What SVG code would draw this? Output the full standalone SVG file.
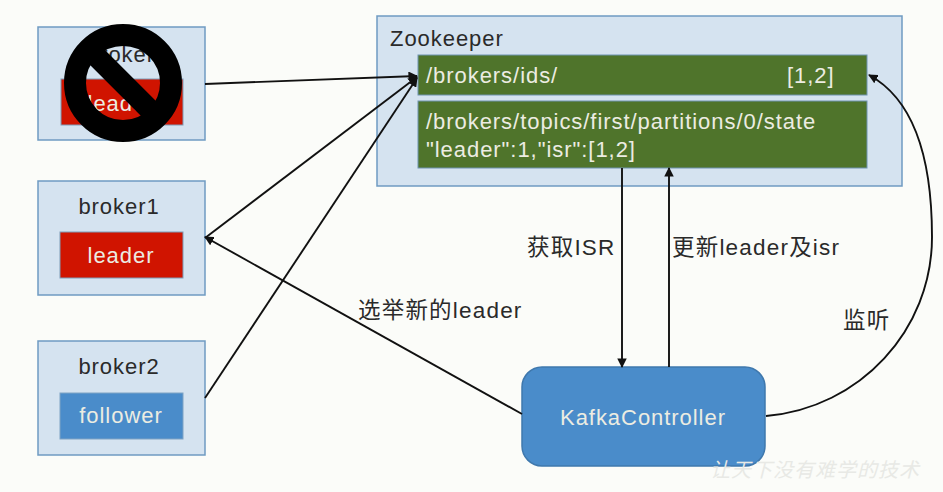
<svg xmlns="http://www.w3.org/2000/svg" width="943" height="492" viewBox="0 0 943 492">
<style>
text{font-family:"Liberation Sans","Noto Sans CJK SC",sans-serif;font-size:22px;letter-spacing:.95px}
.panel{fill:#d5e3f0;stroke:#6f9ac2;stroke-width:1.5}
.red{fill:#d01400;stroke:#7f9db8;stroke-width:1}
.blue{fill:#4a8cca;stroke:#7fa3c4;stroke-width:1}
.green{fill:#4f742b;stroke:#6f93b0;stroke-width:1}
.dark{fill:#2a2a2a}
.light{fill:#ecece2}
.c{text-anchor:middle}
.conn{fill:none;stroke:#111;stroke-width:1.9;marker-end:url(#arrow)}
#labels text{font-size:22.5px;letter-spacing:1.2px}
</style>
<defs>
<marker id="arrow" viewBox="0 0 10 10" refX="9" refY="5" markerWidth="5" markerHeight="5" orient="auto" markerUnits="strokeWidth">
<path d="M0 0L10 5L0 10Z" fill="#111"/>
</marker>
</defs>
<rect width="943" height="492" fill="#fbfcf9"/>
<g id="broker0">
<rect class="panel" x="38" y="27" width="167" height="113"/>
<text class="dark c" x="121" y="62">broker</text>
<rect class="red" x="61" y="79" width="122" height="46"/>
<text class="light c" x="121" y="111">leader</text>
</g>
<g id="forbidden">
<circle cx="123" cy="83" r="48" fill="none" stroke="#000" stroke-width="22"/>
<line x1="88" y1="48" x2="158" y2="118" stroke="#000" stroke-width="21"/>
</g>
<g id="broker1">
<rect class="panel" x="38" y="181" width="167" height="114"/>
<text class="dark c" x="119" y="214">broker1</text>
<rect class="red" x="60" y="232" width="123" height="46"/>
<text class="light c" x="121" y="263">leader</text>
</g>
<g id="broker2">
<rect class="panel" x="38" y="341" width="167" height="114"/>
<text class="dark c" x="119" y="374">broker2</text>
<rect class="blue" x="60" y="393" width="123" height="46"/>
<text class="light c" x="121" y="423">follower</text>
</g>
<g id="zookeeper">
<rect class="panel" x="377" y="16" width="525" height="170"/>
<text class="dark" x="390" y="46">Zookeeper</text>
</g>
<g id="ids">
<rect class="green" x="418" y="55" width="449" height="40"/>
<text class="light" x="426" y="83">/brokers/ids/</text>
<text class="light" x="787" y="83">[1,2]</text>
</g>
<g id="state">
<rect class="green" x="418" y="101" width="449" height="67"/>
<text class="light" x="426" y="129">/brokers/topics/first/partitions/0/state</text>
<text class="light" x="426" y="157">"leader":1,"isr":[1,2]</text>
</g>
<g id="controller">
<rect x="522" y="367" width="243" height="99" rx="20" fill="#4a8cca" stroke="#3f78ad" stroke-width="1.5"/>
<text class="light c" x="643" y="425">KafkaController</text>
</g>
<g id="connectors">
<path class="conn" d="M205 84L417 76"/>
<path class="conn" d="M205 238L417 77"/>
<path class="conn" d="M205 398L417 78"/>
<path class="conn" d="M522 414L205 237"/>
<path class="conn" d="M622 168V367"/>
<path class="conn" d="M669 367V168"/>
<path class="conn" d="M766 416C860 408 932 330 932 237C932 160 915 100 869 75"/>
</g>
<g id="labels">
<text class="dark" x="527" y="255">获取ISR</text>
<text class="dark" x="672" y="255">更新leader及isr</text>
<text class="dark" x="358" y="318">选举新的leader</text>
<text class="dark" x="843" y="328">监听</text>
</g>
<text x="710" y="477" fill="#e8e9e5" style="font-size:20px;font-style:italic;letter-spacing:1px">让天下没有难学的技术</text>
</svg>
